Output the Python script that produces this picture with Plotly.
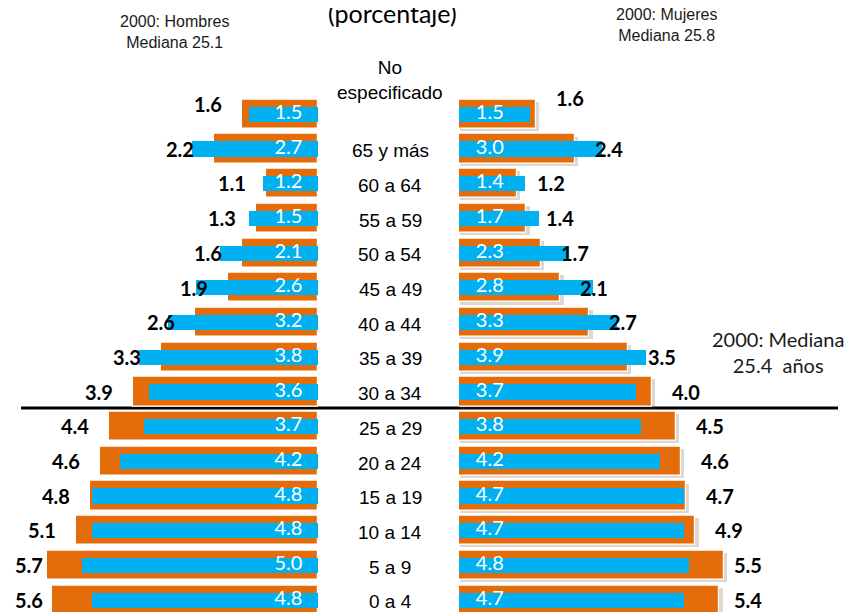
import plotly.graph_objects as go

# ---------------- data ----------------
categories = ["No especificado", "65 y más", "60 a 64", "55 a 59", "50 a 54", "45 a 49",
              "40 a 44", "35 a 39", "30 a 34", "25 a 29", "20 a 24", "15 a 19",
              "10 a 14", "5 a 9", "0 a 4"]
cat_labels = ["No<br>especificado", "65 y más", "60 a 64", "55 a 59", "50 a 54", "45 a 49",
              "40 a 44", "35 a 39", "30 a 34", "25 a 29", "20 a 24", "15 a 19",
              "10 a 14", "5 a 9", "0 a 4"]
hombres_orange = [1.6, 2.2, 1.1, 1.3, 1.6, 1.9, 2.6, 3.3, 3.9, 4.4, 4.6, 4.8, 5.1, 5.7, 5.6]
hombres_blue = [1.5, 2.7, 1.2, 1.5, 2.1, 2.6, 3.2, 3.8, 3.6, 3.7, 4.2, 4.8, 4.8, 5.0, 4.8]
mujeres_orange = [1.6, 2.4, 1.2, 1.4, 1.7, 2.1, 2.7, 3.5, 4.0, 4.5, 4.6, 4.7, 4.9, 5.5, 5.4]
mujeres_blue = [1.5, 3.0, 1.4, 1.7, 2.3, 2.8, 3.3, 3.9, 3.7, 3.8, 4.2, 4.7, 4.7, 4.8, 4.7]

title_text = "(porcentaje)"
hombres_note = "2000: Hombres<br>Mediana 25.1"
mujeres_note = "2000: Mujeres<br>Mediana 25.8"
mediana_note = "2000: Mediana<br>25.4  años"

# ---------------- style ----------------
VW, VH = 856, 612          # viewport
OFF = 8                    # default page body margin
W, H = VW - OFF, VH - OFF  # figure size so that it fills the viewport
ORANGE = "#E46C0A"
BLUE = "#00B0F0"
LEFT_ORIGIN = 318      # page px
RIGHT_ORIGIN = 459     # page px
PX_L = 47.5            # px per unit left
PX_R = 48.2            # px per unit right
ROW_TOP = 114          # page px centre of first row
PITCH = 34.7
CALIBRI = "Lato, 'Open Sans', sans-serif"
ARIAL = "'Liberation Sans', Arial, sans-serif"


def px_x(X):
    return (X - OFF) / W


def px_y(Y):
    return 1 - (Y - OFF) / H


n = len(categories)
ypos = list(range(n - 1, -1, -1))  # first category on top
y_top = n - 1 + 0.5
dom_top_page = ROW_TOP - PITCH * 0.5
y_bottom = (n - 1) - (VH - ROW_TOP) / PITCH

fig = go.Figure()

# left panel (hombres)
fig.add_trace(go.Bar(x=hombres_orange, y=ypos, orientation="h", xaxis="x", yaxis="y",
                     width=0.84, marker=dict(color=ORANGE, line=dict(color="white", width=1.2)),
                     hoverinfo="skip", showlegend=False))
fig.add_trace(go.Bar(x=hombres_blue, y=ypos, orientation="h", xaxis="x", yaxis="y",
                     width=0.44, base=-0.04, marker=dict(color=BLUE, line=dict(width=0)),
                     hoverinfo="skip", showlegend=False))

# right panel (mujeres) with soft shadow
fig.add_trace(go.Bar(x=[v + 0.05 for v in mujeres_orange], y=ypos, orientation="h", xaxis="x2", yaxis="y",
                     width=0.84, offset=-0.48, base=0.02,
                     marker=dict(color="rgba(90,60,40,0.2)", line=dict(width=0)),
                     hoverinfo="skip", showlegend=False))
fig.add_trace(go.Bar(x=mujeres_orange, y=ypos, orientation="h", xaxis="x2", yaxis="y",
                     width=0.84, marker=dict(color=ORANGE, line=dict(color="white", width=1.2)),
                     hoverinfo="skip", showlegend=False))
fig.add_trace(go.Bar(x=mujeres_blue, y=ypos, orientation="h", xaxis="x2", yaxis="y",
                     width=0.44, base=-0.03, marker=dict(color=BLUE, line=dict(width=0)),
                     hoverinfo="skip", showlegend=False))

# white value labels inside blue bars
fig.add_trace(go.Scatter(x=[0.33] * n, y=ypos, xaxis="x", yaxis="y", mode="text",
                         text=[f"{v:.1f}" for v in hombres_blue], textposition="middle left",
                         textfont=dict(family=CALIBRI, size=20, color="white"),
                         hoverinfo="skip", showlegend=False, cliponaxis=False))
fig.add_trace(go.Scatter(x=[0.35] * n, y=ypos, xaxis="x2", yaxis="y", mode="text",
                         text=[f"{v:.1f}" for v in mujeres_blue], textposition="middle right",
                         textfont=dict(family=CALIBRI, size=20, color="white"),
                         hoverinfo="skip", showlegend=False, cliponaxis=False))

annotations = []
gap_l = 18 / PX_L
gap_r = 18 / PX_R
max_l = (LEFT_ORIGIN - 45) / PX_L
max_r = (732 - RIGHT_ORIGIN) / PX_R
for i, (c, yv) in enumerate(zip(categories, ypos)):
    first = (i == 0)
    annotations.append(dict(x=min(hombres_orange[i] + gap_l, max_l), y=yv, xref="x", yref="y",
                            text=f"<b>{hombres_orange[i]:.1f}</b>", showarrow=False,
                            xanchor="right", yanchor="middle", yshift=10 if first else 0,
                            font=dict(family=CALIBRI, size=20, color="black")))
    annotations.append(dict(x=min(mujeres_orange[i] + gap_r, max_r), y=yv, xref="x2", yref="y",
                            text=f"<b>{mujeres_orange[i]:.1f}</b>", showarrow=False,
                            xanchor="left", yanchor="middle", yshift=16 if first else 0,
                            font=dict(family=CALIBRI, size=20, color="black")))
    annotations.append(dict(x=px_x(390), y=yv, xref="paper", yref="y", text=cat_labels[i],
                            showarrow=False, xanchor="center", yanchor="middle",
                            yshift=34 if first else -2,
                            font=dict(family=ARIAL, size=19, color="black")))

annotations += [
    dict(x=px_x(392), y=px_y(13), xref="paper", yref="paper", text=title_text, showarrow=False,
         xanchor="center", yanchor="middle", font=dict(family=CALIBRI, size=25, color="black")),
    dict(x=px_x(174), y=px_y(32), xref="paper", yref="paper", text=hombres_note, showarrow=False,
         xanchor="center", yanchor="middle", font=dict(family=ARIAL, size=16, color="#1a1a1a")),
    dict(x=px_x(666), y=px_y(25), xref="paper", yref="paper", text=mujeres_note, showarrow=False,
         xanchor="center", yanchor="middle", font=dict(family=ARIAL, size=16, color="#1a1a1a")),
    dict(x=px_x(778), y=px_y(352), xref="paper", yref="paper", text=mediana_note, showarrow=False,
         xanchor="center", yanchor="middle", font=dict(family=CALIBRI, size=20, color="#1a1a1a")),
]

median_y = (n - 1) - (408 - ROW_TOP) / PITCH

fig.update_layout(
    width=W, height=H,
    margin=dict(l=0, r=0, t=0, b=0),
    paper_bgcolor="white", plot_bgcolor="rgba(0,0,0,0)",
    barmode="overlay", bargap=0,
    xaxis=dict(domain=[0, px_x(LEFT_ORIGIN)], range=[(LEFT_ORIGIN - OFF) / PX_L, 0], visible=False,
               fixedrange=True),
    xaxis2=dict(domain=[px_x(RIGHT_ORIGIN), 1], range=[0, (VW - RIGHT_ORIGIN) / PX_R], visible=False,
                anchor="y", fixedrange=True),
    yaxis=dict(domain=[0, px_y(dom_top_page)], range=[y_bottom, y_top], visible=False,
               fixedrange=True),
    annotations=annotations,
    shapes=[dict(type="line", xref="paper", yref="y", x0=px_x(21), x1=px_x(838),
                 y0=median_y, y1=median_y, line=dict(color="black", width=3), layer="below")],
    showlegend=False,
)

fig.write_html("out.html")
